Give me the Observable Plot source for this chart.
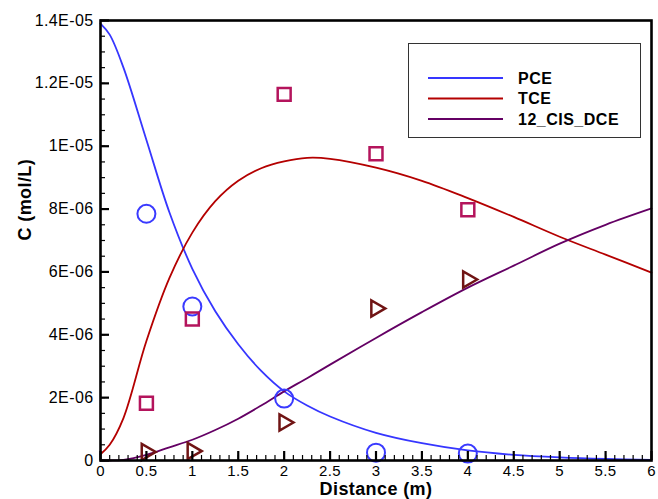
<!DOCTYPE html>
<html>
<head>
<meta charset="utf-8">
<script src="https://cdn.jsdelivr.net/npm/d3@7"></script>
<script src="https://cdn.jsdelivr.net/npm/@observablehq/plot@0.6"></script>
<style>
  html, body { margin: 0; padding: 0; background: white; }
  #wrap { position: relative; width: 658px; height: 499px; overflow: hidden; }
  #legend { position: absolute; left: 0; top: 0; }
</style>
</head>
<body>
<div id="wrap"></div>
<script>
// ---- data ----
const seriesNames = ["PCE", "TCE", "12_CIS_DCE"];
const lineColors = ["#3636ff", "#b40000", "#640064"];
const markerColors = ["#3a3aff", "#b4145c", "#701414"];

// simulated curves (x in m, value in 1e-6 mol/L)
const curveX = [0, 0.1, 0.25, 0.5, 0.75, 1, 1.25, 1.5, 1.75, 2, 2.25, 2.5, 3, 3.5, 4, 4.5, 5, 5.5, 6];
const pceCurve = [13.9, 13.55, 12.5, 10.2, 7.9, 6.1, 4.75, 3.7, 2.85, 2.2, 1.75, 1.4, 0.88, 0.55, 0.32, 0.18, 0.1, 0.05, 0.02];
const tceCurve = [0.2, 0.5, 1.35, 3.8, 5.8, 7.25, 8.25, 8.9, 9.3, 9.52, 9.63, 9.6, 9.32, 8.9, 8.35, 7.75, 7.12, 6.55, 5.98];
const dceCurve = [0, 0, 0.02, 0.18, 0.42, 0.66, 0.97, 1.33, 1.75, 2.2, 2.62, 3.05, 3.9, 4.72, 5.5, 6.2, 6.9, 7.5, 8.02];

// measured points
const obsX = [0.5, 1, 2, 3, 4];
const pceObs = [7.85, 4.9, 1.97, 0.25, 0.22];
const tceObs = [1.82, 4.5, 11.65, 9.76, 7.98];
const dceObs = [0.27, 0.3, 1.21, 4.84, 5.76];

// axes
const xTicks = [0, 0.5, 1, 1.5, 2, 2.5, 3, 3.5, 4, 4.5, 5, 5.5, 6];
const xLabels = ["0", "0.5", "1", "1.5", "2", "2.5", "3", "3.5", "4", "4.5", "5", "5.5", "6"];
const yTicks = [0, 2e-6, 4e-6, 6e-6, 8e-6, 1e-5, 1.2e-5, 1.4e-5];
const yLabels = ["0", "2E-06", "4E-06", "6E-06", "8E-06", "1E-05", "1.2E-05", "1.4E-05"];
const xMinor = d3.range(0, 61).map(i => i / 10);
const yMinor = d3.range(0, 29).map(i => i * 0.5e-6);

// ---- build tables ----
const curves = [pceCurve, tceCurve, dceCurve].map(arr =>
  arr.map((v, i) => ({x: curveX[i], y: v * 1e-6})));
const obs = [pceObs, tceObs, dceObs].map(arr =>
  arr.map((v, i) => ({x: obsX[i], y: v * 1e-6})));

const W = 658, H = 499, mL = 100, mR = 7, mT = 20, mB = 39;
const pw = W - mL - mR, ph = H - mT - mB;

const chart = Plot.plot({
  width: W, height: H,
  marginLeft: mL, marginRight: mR, marginTop: mT, marginBottom: mB,
  x: {domain: [0, 6]},
  y: {domain: [0, 1.4e-5]},
  style: {fontFamily: "'Liberation Sans', Arial, sans-serif", fontSize: "16px", background: "white", color: "black", letterSpacing: "0.4px"},
  marks: [
    Plot.line(curves[0], {x: "x", y: "y", stroke: lineColors[0], strokeWidth: 1.8, curve: "catmull-rom"}),
    Plot.line(curves[1], {x: "x", y: "y", stroke: lineColors[1], strokeWidth: 1.8, curve: "catmull-rom"}),
    Plot.line(curves[2], {x: "x", y: "y", stroke: lineColors[2], strokeWidth: 1.8, curve: "catmull-rom"}),
    Plot.dot(obs[0], {x: "x", y: "y", r: 9, symbol: "circle", stroke: markerColors[0], strokeWidth: 2, fill: "none"}),
    Plot.dot(obs[1], {x: "x", y: "y", r: 7.3, symbol: "square", stroke: markerColors[1], strokeWidth: 2.5, fill: "none"}),
    Plot.dot(obs[2], {x: "x", y: "y", r: 6, symbol: "triangle", rotate: 90, stroke: markerColors[2], strokeWidth: 2.5, fill: "none"}),
    // inward ticks
    Plot.tickX(xMinor, {x: d => d, stroke: "black", strokeWidth: 1.2, insetTop: ph - 5}),
    Plot.tickX(xTicks, {x: d => d, stroke: "black", strokeWidth: 2.2, insetTop: ph - 9}),
    Plot.tickY(yMinor, {y: d => d, stroke: "black", strokeWidth: 1.2, insetRight: pw - 5}),
    Plot.tickY(yTicks, {y: d => d, stroke: "black", strokeWidth: 2.2, insetRight: pw - 9}),
    Plot.axisX({ticks: xTicks, tickFormat: d => xLabels[xTicks.indexOf(d)], tickSize: 0, tickPadding: 5, label: null, fontSize: 15}),
    Plot.axisY({ticks: yTicks, tickFormat: d => yLabels[yTicks.indexOf(d)], tickSize: 0, tickPadding: 7, label: null, fontSize: 16}),
    Plot.frame({stroke: "black", strokeWidth: 2.6}),
    Plot.text(["Distance (m)"], {frameAnchor: "bottom", dy: 34, fontWeight: "bold", fontSize: 18, fill: "black", letterSpacing: "1px"}),
    Plot.text(["C (mol/L)"], {frameAnchor: "left", dx: -75, rotate: -90, fontWeight: "bold", fontSize: 18, fill: "black", letterSpacing: "0.8px"})
  ]
});

const wrap = document.getElementById("wrap");
wrap.appendChild(chart);

// legend overlay
const lg = d3.select(wrap).append("svg")
  .attr("id", "legend").attr("width", W).attr("height", H);
lg.append("rect").attr("x", 408.5).attr("y", 43.5).attr("width", 232).attr("height", 94)
  .attr("fill", "white").attr("stroke", "#333").attr("stroke-width", 1);
seriesNames.forEach((name, i) => {
  const yy = 78 + i * 20.5;
  lg.append("line").attr("x1", 428).attr("x2", 503).attr("y1", yy).attr("y2", yy)
    .attr("stroke", lineColors[i]).attr("stroke-width", 2.2);
  lg.append("text").attr("x", 518).attr("y", yy).attr("dy", "0.36em")
    .attr("font-family", "'Liberation Sans', Arial, sans-serif").attr("font-size", 16)
    .attr("font-weight", "bold").attr("letter-spacing", "0.5px").attr("fill", "black")
    .text(name);
});
</script>
</body>
</html>
